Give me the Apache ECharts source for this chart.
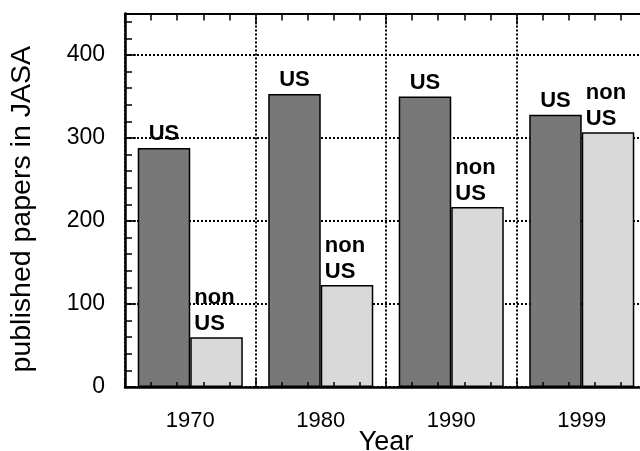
<!DOCTYPE html>
<html>
<head>
<meta charset="utf-8">
<script src="https://cdn.jsdelivr.net/npm/echarts@6/dist/echarts.min.js"></script>
<style>
  html, body { margin: 0; padding: 0; background: #fff; }
  #chart { width: 640px; height: 451px; }
</style>
</head>
<body>
<div id="chart"></div>
<script>
var years = ['1970', '1980', '1990', '1999'];
var usPapers = [288, 353, 350, 328];
var nonUsPapers = [60, 123, 217, 307];
var yTicks = [0, 100, 200, 300, 400];
var yMax = 450;

var FONT = '"Liberation Sans", Arial, Helvetica, sans-serif';
var chart = echarts.init(document.getElementById('chart'));

var dotted = { color: '#000', width: 2, type: [2, 2] };

var option = {
  animation: false,
  backgroundColor: '#fff',
  grid: { left: 125, top: 13.5, right: -7, bottom: 64, containLabel: false, outerBoundsMode: 'none' },
  xAxis: [
    {
      type: 'category',
      data: years,
      position: 'bottom',
      boundaryGap: true,
      axisLine: { show: false },
      axisTick: { show: false },
      axisLabel: { color: '#000', fontSize: 22, fontFamily: FONT, margin: 23 },
      splitLine: { show: true, interval: 0, lineStyle: dotted },
      name: 'Year',
      nameLocation: 'middle',
      nameGap: 42,
      nameMoveOverlap: false,
      nameTextStyle: { color: '#000', fontSize: 27, fontFamily: FONT }
    },
    {
      type: 'value', min: 0, max: years.length, interval: 1,
      position: 'bottom', z: 10,
      axisLine: { show: true, onZero: false, lineStyle: { color: '#000', width: 2.5 } },
      axisTick: { show: true, inside: true, length: 9, lineStyle: { color: '#000', width: 1.5 } },
      minorTick: { show: true, splitNumber: 5, length: 5, lineStyle: { color: '#000', width: 1.5 } },
      axisLabel: { show: false },
      splitLine: { show: false }
    },
    {
      type: 'value', min: 0, max: years.length, interval: 1,
      position: 'top', z: 10,
      axisLine: { show: true, onZero: false, lineStyle: { color: '#000', width: 2 } },
      axisTick: { show: true, inside: true, length: 11, lineStyle: { color: '#000', width: 1.5 } },
      minorTick: { show: true, splitNumber: 5, length: 7, lineStyle: { color: '#000', width: 1.5 } },
      axisLabel: { show: false },
      splitLine: { show: false }
    }
  ],
  yAxis: [
    {
      type: 'value', min: 0, max: yMax, interval: 100,
      position: 'left',
      axisLine: { show: false },
      axisTick: { show: true, inside: true, length: 11, lineStyle: { color: '#000', width: 1.5 } },
      axisLabel: {
        color: '#000', fontSize: 23, fontFamily: FONT, margin: 20,
        formatter: function (v) { return yTicks.indexOf(v) >= 0 ? String(v) : ''; }
      },
      splitLine: { show: true, lineStyle: dotted },
      name: 'published papers in JASA',
      nameLocation: 'middle',
      nameGap: 88,
      nameTextStyle: { color: '#000', fontSize: 28.5, fontFamily: FONT, padding: [0, 18, 0, 0] }
    },
    {
      type: 'value', min: 0, max: yMax, interval: 20,
      position: 'left', z: 10,
      axisLine: { show: true, onZero: false, lineStyle: { color: '#000', width: 2.5 } },
      axisTick: { show: true, inside: true, length: 7, lineStyle: { color: '#000', width: 1.5 } },
      axisLabel: { show: false },
      splitLine: { show: false }
    }
  ],
  series: [
    {
      name: 'US', type: 'bar', xAxisIndex: 0, yAxisIndex: 0,
      data: usPapers,
      barGap: '0%', barCategoryGap: '19.5%',
      itemStyle: { color: '#787878', borderColor: '#000', borderWidth: 1.5 },
      label: {
        show: true, position: 'top', distance: 1,
        formatter: 'US',
        color: '#000', fontSize: 22, fontWeight: 'bold', fontFamily: FONT, lineHeight: 26
      },
      z: 3
    },
    {
      name: 'non US', type: 'bar', xAxisIndex: 0, yAxisIndex: 0,
      data: nonUsPapers,
      barGap: '0%', barCategoryGap: '19.5%',
      itemStyle: { color: '#d9d9d9', borderColor: '#000', borderWidth: 1.5 },
      label: {
        show: true, position: [4, 0], align: 'left', verticalAlign: 'bottom',
        formatter: 'non\nUS',
        color: '#000', fontSize: 22, fontWeight: 'bold', fontFamily: FONT, lineHeight: 26
      },
      z: 3
    }
  ]
};
chart.setOption(option);
</script>
</body>
</html>
